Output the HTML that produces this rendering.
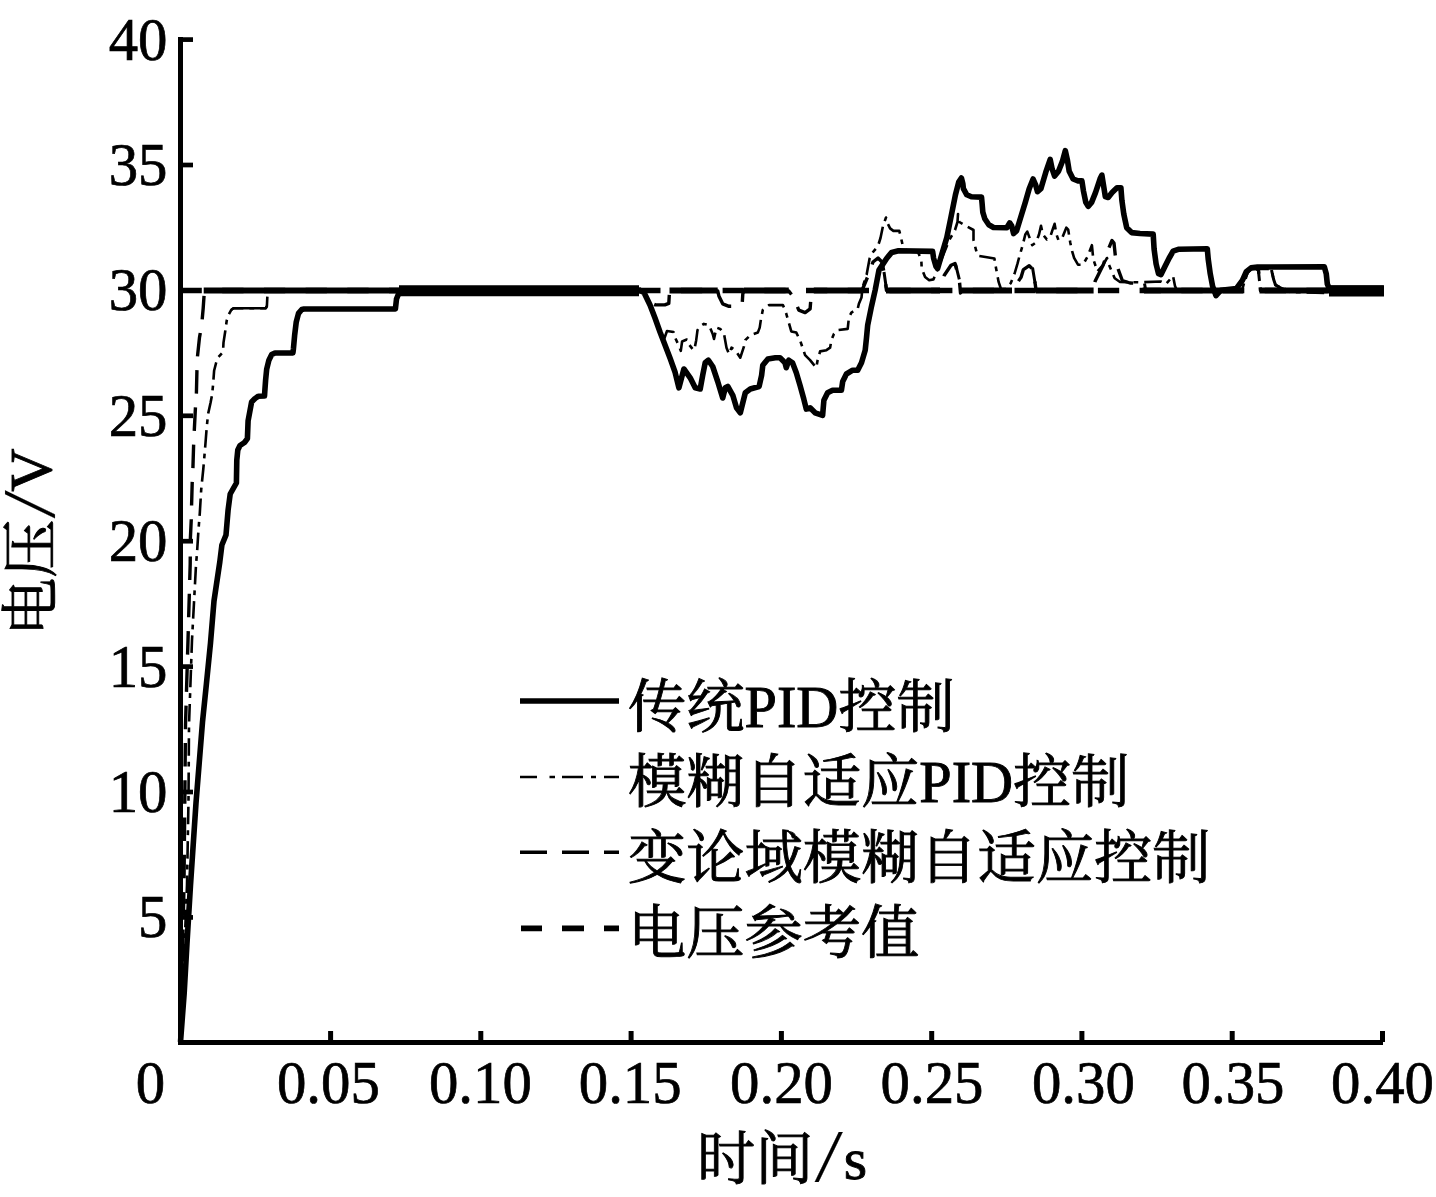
<!DOCTYPE html><html><head><meta charset="utf-8"><style>html,body{margin:0;padding:0;background:#fff;width:1436px;height:1197px;overflow:hidden}svg{display:block}.n{font-family:"Liberation Serif",serif;font-size:60px;fill:#000;stroke:#000;stroke-width:0.7px}.c{font-family:"Liberation Serif","Noto Serif CJK SC",serif;font-size:58.25px;fill:#000;font-weight:400;stroke:#000;stroke-width:0.9px}.sl{font-family:"WenQuanYi Zen Hei",sans-serif;font-weight:400;stroke-width:0.2px}.lat{font-family:"Liberation Serif",serif;font-weight:400;font-size:60px}</style></head><body>
<svg width="1436" height="1197" viewBox="0 0 1436 1197">
<g stroke="#000" fill="none" stroke-linecap="butt">
<path d="M180.5 37 V1044.7" stroke-width="5"/>
<path d="M178 1042.4 H1383" stroke-width="5"/>
<path d="M180 917.4 H193" stroke-width="4.7"/>
<path d="M180 792.0 H193" stroke-width="4.7"/>
<path d="M180 666.6 H193" stroke-width="4.7"/>
<path d="M180 541.2 H193" stroke-width="4.7"/>
<path d="M180 415.8 H193" stroke-width="4.7"/>
<path d="M180 290.4 H193" stroke-width="4.7"/>
<path d="M180 165.0 H193" stroke-width="4.7"/>
<path d="M180 39.6 H193" stroke-width="4.7"/>
<path d="M330.6 1031 V1042" stroke-width="5"/>
<path d="M480.8 1031 V1042" stroke-width="5"/>
<path d="M631.1 1031 V1042" stroke-width="5"/>
<path d="M781.4 1031 V1042" stroke-width="5"/>
<path d="M931.7 1031 V1042" stroke-width="5"/>
<path d="M1081.9 1031 V1042" stroke-width="5"/>
<path d="M1232.2 1031 V1042" stroke-width="5"/>
<path d="M1382.5 1031 V1042" stroke-width="5"/>
</g>
<text class="n" transform="translate(167.5,937.4) scale(0.98,1.035)" text-anchor="end">5</text>
<text class="n" transform="translate(167.5,812.0) scale(0.98,1.035)" text-anchor="end">10</text>
<text class="n" transform="translate(167.5,686.6) scale(0.98,1.035)" text-anchor="end">15</text>
<text class="n" transform="translate(167.5,561.2) scale(0.98,1.035)" text-anchor="end">20</text>
<text class="n" transform="translate(167.5,435.8) scale(0.98,1.035)" text-anchor="end">25</text>
<text class="n" transform="translate(167.5,310.4) scale(0.98,1.035)" text-anchor="end">30</text>
<text class="n" transform="translate(167.5,185.0) scale(0.98,1.035)" text-anchor="end">35</text>
<text class="n" transform="translate(167.5,59.6) scale(0.98,1.035)" text-anchor="end">40</text>
<text class="n" transform="translate(150.5,1103.0) scale(0.98,1.035)" text-anchor="middle">0</text>
<text class="n" transform="translate(328.4,1103.0) scale(0.98,1.035)" text-anchor="middle">0.05</text>
<text class="n" transform="translate(480.4,1103.0) scale(0.98,1.035)" text-anchor="middle">0.10</text>
<text class="n" transform="translate(630.2,1103.0) scale(0.98,1.035)" text-anchor="middle">0.15</text>
<text class="n" transform="translate(781.5,1103.0) scale(0.98,1.035)" text-anchor="middle">0.20</text>
<text class="n" transform="translate(932.0,1103.0) scale(0.98,1.035)" text-anchor="middle">0.25</text>
<text class="n" transform="translate(1083.4,1103.0) scale(0.98,1.035)" text-anchor="middle">0.30</text>
<text class="n" transform="translate(1233.0,1103.0) scale(0.98,1.035)" text-anchor="middle">0.35</text>
<text class="n" transform="translate(1382.5,1103.0) scale(0.98,1.035)" text-anchor="middle">0.40</text>
<text class="c" x="697" y="1179">时间<tspan class="sl" dy="-7">/</tspan><tspan class="lat" dy="7">s</tspan></text>
<text class="c" transform="translate(51,636) rotate(-90)">电压<tspan class="sl" dy="-6.5">/</tspan><tspan class="lat" dy="6.5" dx="-2.5">V</tspan></text>
<g stroke="#000" fill="none">
<path d="M520 701 H619" stroke-width="5.5"/>
<path d="M520 777 H537 M549.5 777 H555 M562 777 H583 M591 777 H596 M604 777 H619" stroke-width="2.4"/>
<path d="M520 852.3 H547 M562 852.3 H589 M604 852.3 H619" stroke-width="3.4"/>
<path d="M521 928.4 H542 M562 928.4 H584 M604 928.4 H619" stroke-width="5.8"/>
</g>
<text class="c" x="628" y="727">传统PID控制</text>
<text class="c" x="628" y="802">模糊自适应PID控制</text>
<text class="c" x="628" y="878">变论域模糊自适应控制</text>
<text class="c" x="628" y="953">电压参考值</text>
<g fill="none" stroke="#000" stroke-linejoin="round">
<path d="M180.5 290.5 H1384" stroke-width="5.5" stroke-dasharray="21.3 20.4"/>
<path d="M180.5 1042.0 L181.5 1000.0 L184.0 885.0 L185.5 725.0 L188.0 640.0 L190.2 564.0 L190.4 537.9 L191.3 518.6 L191.6 504.8 L192.2 482.8 L192.9 469.0 L193.6 445.5 L194.3 430.3 L195.4 408.3 L196.4 393.3 L196.9 371.9 L197.4 357.2 L199.5 337.4 L201.6 325.9 L203.2 308.2 L204.2 293.6 L205.0 290.5 L641.0 290.5 L646.7 294.0 L652.1 303.4 L655.4 304.9 L664.8 304.9 L668.8 303.4 L669.4 293.4 L670.5 290.5 L717.7 291.0 L719.0 296.3 L722.7 303.8 L729.0 306.3 L739.0 306.3 L742.2 303.8 L742.8 293.8 L744.0 290.5 L788.8 291.0 L793.8 297.6 L795.7 302.6 L798.8 310.1 L805.1 312.6 L810.1 308.8 L811.3 293.8 L813.8 290.5 L862.0 290.5 L868.0 276.0 L873.0 262.0 L878.0 258.0 L882.0 262.0 L884.5 275.0 L886.5 290.5 L940.0 290.5 L941.8 282.7 L944.3 275.2 L951.0 265.2 L955.0 263.5 L959.3 279.4 L960.5 293.0 L962.0 290.5 L1012.0 290.5 L1021.0 277.4 L1023.4 269.6 L1029.2 265.7 L1033.1 269.6 L1035.1 283.2 L1036.1 290.5 L1093.0 290.5 L1095.2 281.0 L1103.3 264.7 L1109.3 246.8 L1112.0 240.5 L1114.0 243.0 L1115.8 260.4 L1117.0 266.0 L1122.3 280.5 L1130.0 283.0 L1143.0 283.5 L1145.0 290.5 L1241.0 290.5 L1244.0 283.0 L1247.0 273.0 L1251.0 268.5 L1256.0 268.5 L1258.5 270.0 L1259.5 281.0 L1260.5 290.5 L1384.0 290.5" stroke-width="3.4" stroke-dasharray="23.5 13.8" stroke-dashoffset="-14.5"/>
<path d="M203.7 290.5 H641 M669.5 290.5 H717.7 M744 290.5 H788.8 M813.8 290.5 H862 M886 290.5 H940 M961 290.5 H1012 M1036 290.5 H1093.6 M1144 290.5 H1243.3 M1259.5 290.5 H1384" stroke-width="5.8"/>
<path d="M180.5 1042.0 L184.0 960.0 L187.0 885.0 L188.5 800.0 L189.0 725.0 L192.0 640.0 L196.0 565.0 L197.1 551.7 L198.4 531.0 L199.8 513.1 L201.2 489.7 L203.3 469.0 L205.3 445.5 L206.7 427.6 L208.1 413.8 L210.5 403.0 L212.1 394.8 L213.1 384.4 L214.1 370.8 L216.2 362.5 L218.3 357.2 L223.0 352.0 L223.5 342.6 L225.1 332.2 L226.7 320.7 L228.8 314.4 L231.4 309.7 L233.5 308.2 L265.8 308.2 L266.9 306.1 L267.4 295.7 L270.0 291.0 L272.0 290.5 L641.0 290.5 L644.0 292.5 L650.0 305.0 L655.0 318.0 L660.5 332.5 L664.5 338.0 L667.0 331.0 L673.5 332.0 L675.1 337.7 L678.8 345.5 L680.8 350.9 L682.1 341.5 L686.8 339.5 L688.8 344.2 L693.5 350.2 L694.9 346.9 L696.2 340.2 L697.5 330.1 L699.5 326.8 L703.9 323.9 L709.0 325.1 L712.7 333.9 L714.0 338.9 L716.5 327.6 L720.2 328.9 L724.0 333.9 L726.5 347.7 L729.0 354.0 L731.5 347.7 L735.3 350.2 L740.3 357.7 L744.0 346.4 L745.3 340.2 L750.3 335.2 L757.8 332.6 L759.7 327.6 L761.0 318.9 L762.8 310.1 L769.1 305.1 L782.9 305.1 L784.0 307.6 L786.3 313.8 L788.8 322.6 L791.3 331.4 L796.3 332.6 L800.0 340.2 L802.6 347.7 L805.1 355.2 L810.1 360.2 L816.3 367.7 L817.6 360.2 L820.1 351.4 L826.4 350.2 L830.1 347.7 L831.4 340.2 L833.9 333.9 L837.6 330.1 L847.7 328.9 L848.9 317.6 L851.4 312.6 L857.7 308.8 L858.9 303.8 L861.5 297.6 L862.5 287.7 L866.7 274.3 L869.6 258.5 L872.6 252.6 L878.0 246.0 L880.5 238.0 L883.0 226.0 L886.0 217.5 L887.6 223.4 L890.1 228.4 L893.4 230.9 L899.3 230.9 L901.0 237.6 L902.6 245.1 L906.0 250.0 L918.0 252.0 L921.3 260.0 L921.7 268.5 L925.1 276.9 L929.2 280.2 L933.4 279.4 L935.9 273.5 L942.0 258.0 L949.0 240.5 L955.0 230.0 L957.5 222.0 L958.0 214.0 L959.3 222.0 L966.0 226.0 L973.5 230.0 L973.5 240.0 L976.0 250.0 L978.0 255.8 L987.0 257.3 L994.4 258.5 L996.0 268.0 L998.6 281.9 L1001.0 289.0 L1006.0 289.0 L1010.7 283.2 L1014.6 273.5 L1017.5 263.7 L1019.5 256.0 L1022.4 246.2 L1025.3 234.5 L1027.3 231.6 L1030.2 239.4 L1032.2 245.2 L1036.1 242.3 L1039.0 234.5 L1041.0 225.7 L1042.9 234.5 L1046.8 239.4 L1050.7 235.5 L1052.6 229.6 L1054.6 223.8 L1056.5 234.5 L1058.5 240.3 L1062.4 237.4 L1066.3 227.7 L1068.2 229.6 L1070.2 242.3 L1072.1 251.1 L1074.1 257.9 L1078.0 264.7 L1082.9 264.7 L1087.6 256.6 L1091.9 245.2 L1093.3 259.3 L1097.4 271.3 L1103.0 265.0 L1107.0 258.0 L1108.2 263.0 L1114.7 278.3 L1120.0 282.0 L1140.0 282.3 L1160.8 281.5 L1166.0 284.0 L1173.0 276.0 L1175.0 286.0 L1177.0 290.5 L1242.0 290.5 L1246.0 276.0 L1250.0 269.5 L1256.0 268.8 L1268.0 269.0 L1271.7 270.2 L1273.5 279.0 L1275.5 285.0 L1280.0 287.5 L1290.0 292.0 L1328.0 293.0 L1384.0 293.5" stroke-width="2.6" stroke-dasharray="17.5 6 4.8 6" stroke-dashoffset="-12"/>
<path d="M231.4 309.7 L233.5 308.2 H265.8 L266.9 306.1" stroke-width="2.6"/>
<path d="M884 272 L886.3 288 M1032.5 267.5 L1035.1 283.2 M955.5 264 L959.3 279.4 M1258.3 269.5 L1259.5 281 M1144.5 283.5 L1145.5 289 M1271.5 270 L1273.5 279 L1275.5 285 L1280 287.5" stroke-width="3"/>
<path d="M180.5 1042.0 L184.2 993.0 L187.0 943.0 L190.5 885.0 L196.0 803.0 L202.5 722.0 L206.4 684.0 L210.5 643.0 L214.0 601.0 L219.8 562.0 L221.9 545.0 L226.0 535.0 L228.1 510.0 L230.2 494.0 L236.4 483.0 L236.8 460.0 L237.8 450.0 L240.0 445.5 L244.5 442.5 L247.4 438.6 L248.1 420.7 L251.6 402.0 L255.0 398.5 L258.5 396.2 L264.5 396.0 L264.8 391.4 L265.6 380.3 L266.7 369.1 L268.9 360.2 L271.7 354.6 L275.0 353.0 L292.9 353.0 L293.4 349.1 L294.6 335.7 L296.2 322.3 L298.5 313.4 L301.8 309.5 L304.0 309.0 L395.4 309.0 L396.5 299.0 L398.7 293.4 L401.0 290.5 L640.5 290.5 L644.0 292.5 L650.0 305.0 L655.0 318.0 L660.1 332.2 L665.1 345.2 L670.1 358.3 L675.1 372.3 L678.9 387.8 L683.9 369.0 L690.2 377.8 L695.2 387.8 L700.2 389.0 L702.7 375.3 L705.2 362.7 L708.3 360.2 L712.7 366.5 L717.7 381.5 L722.7 398.0 L725.3 387.8 L727.8 386.5 L732.8 395.3 L736.5 407.8 L740.3 412.8 L742.8 402.8 L745.3 392.8 L750.3 389.0 L759.1 386.5 L761.6 375.3 L762.8 365.2 L767.9 359.0 L775.4 357.7 L780.0 357.7 L785.0 362.7 L786.3 367.7 L788.8 360.2 L792.5 362.7 L796.3 372.7 L800.0 385.3 L803.8 399.1 L806.3 409.1 L810.1 407.8 L815.1 412.8 L822.6 415.4 L823.9 400.3 L827.6 392.8 L832.6 390.3 L841.4 390.3 L842.7 381.5 L846.4 374.0 L852.7 370.2 L857.7 370.2 L861.5 362.7 L865.2 350.2 L866.5 337.7 L867.7 325.1 L871.5 306.3 L875.2 290.0 L879.0 270.0 L882.9 264.1 L886.8 258.2 L891.7 252.4 L898.5 250.8 L932.6 251.4 L933.6 258.2 L936.0 266.5 L937.6 268.5 L941.8 254.3 L946.8 237.6 L951.0 217.0 L955.4 195.0 L958.7 182.1 L961.4 178.0 L962.8 183.4 L963.4 188.7 L966.8 194.8 L971.4 196.8 L981.5 197.1 L982.1 203.4 L982.8 212.1 L984.8 218.8 L988.8 224.8 L993.5 227.5 L1006.8 227.7 L1009.7 222.9 L1011.7 225.8 L1013.6 233.6 L1016.6 230.7 L1020.5 218.0 L1025.3 202.4 L1029.2 188.7 L1033.1 179.0 L1035.6 184.8 L1037.5 191.7 L1040.9 188.7 L1045.8 172.2 L1050.2 159.5 L1052.2 169.2 L1054.6 176.1 L1058.5 171.2 L1062.4 161.4 L1065.3 150.7 L1067.3 159.5 L1069.2 171.2 L1073.1 179.0 L1078.0 180.9 L1081.9 180.9 L1083.4 190.7 L1085.8 202.4 L1088.2 206.3 L1091.6 202.4 L1095.5 192.6 L1100.4 178.0 L1101.9 175.1 L1103.3 183.9 L1105.3 196.5 L1108.2 197.5 L1112.1 192.6 L1117.0 187.8 L1120.9 187.8 L1121.9 200.4 L1123.8 214.1 L1126.7 227.7 L1131.6 232.6 L1140.0 233.5 L1153.2 234.1 L1154.1 249.2 L1156.1 263.9 L1158.5 273.6 L1161.0 274.6 L1165.3 265.8 L1169.2 258.0 L1173.1 251.2 L1179.0 249.2 L1207.3 248.8 L1208.2 259.0 L1210.2 273.6 L1212.6 286.3 L1216.0 295.5 L1220.9 290.2 L1236.5 288.5 L1242.4 280.4 L1246.3 271.7 L1251.1 267.8 L1257.5 267.0 L1324.3 266.8 L1326.3 274.1 L1327.3 283.9 L1329.0 288.0 L1383.5 288.2" stroke-width="5.6"/>
<path d="M399 290.75 H639 M1329 290.8 H1384" stroke-width="11.2"/>
</g>
</svg></body></html>
